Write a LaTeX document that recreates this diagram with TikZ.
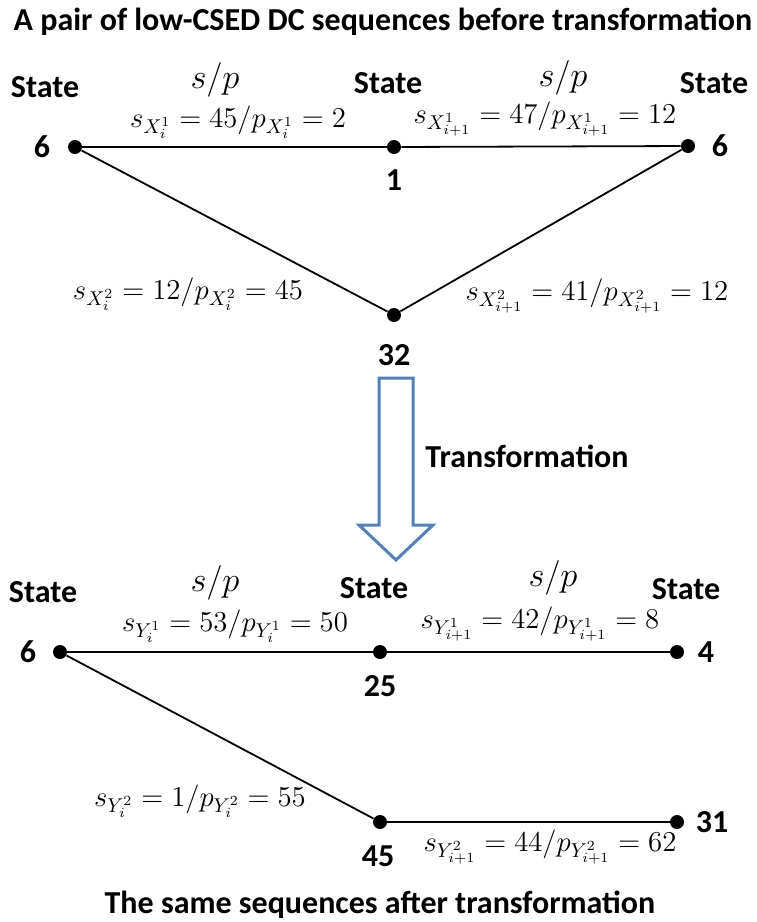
\documentclass[tikz,border=0pt]{standalone}
\usepackage{fontspec}
\usepackage{xcolor}
\newfontfamily\calibri{Carlito}
\usetikzlibrary{positioning}
\definecolor{arrblue}{RGB}{79,129,189}

\begin{document}
\begin{tikzpicture}[x=0.5pt, y=-0.5pt,
  dot/.style={circle, fill=black, inner sep=0pt, minimum size=7pt},
  lbl/.style={font=\calibri\bfseries\fontsize{16}{19}\selectfont, inner sep=1pt},
  edgelbl/.style={font=\fontsize{14}{16}\selectfont, inner sep=1pt},
  sp/.style={font=\fontsize{19}{22}\selectfont, inner sep=1pt},
  edge/.style={line width=0.9pt}]
  \useasboundingbox (0,0) rectangle (756,922);
  \node[lbl] (toptitle) at (383,22) {A pair of low-CSED DC sequences before transformation};
  % before
  \node[dot] (xa) at (75,147) {};
  \node[dot] (xb) at (394,147) {};
  \node[dot] (xc) at (688,146) {};
  \node[dot] (xd) at (394,315) {};
  \node[lbl] (xal) at (42,147) {6};
  \node[lbl] (xbl) at (394,180) {1};
  \node[lbl] (xcl) at (720,146) {6};
  \node[lbl] (xdl) at (394,355) {32};
  \node[lbl] (xs1) at (45,87) {State};
  \node[lbl] (xs2) at (388,83) {State};
  \node[lbl] (xs3) at (714,83) {State};
  \node[sp] (xsp1) at (215,80) {$s/p$};
  \node[sp] (xsp2) at (563,78) {$s/p$};
  \node[edgelbl] (xe1) at (238,122) {$s_{X_i^1}=45/p_{X_i^1}=2$};
  \node[edgelbl] (xe2) at (545,119) {$s_{X_{i+1}^1}=47/p_{X_{i+1}^1}=12$};
  \node[edgelbl] (xe3) at (188,294) {$s_{X_i^2}=12/p_{X_i^2}=45$};
  \node[edgelbl] (xe4) at (597,296) {$s_{X_{i+1}^2}=41/p_{X_{i+1}^2}=12$};
  \foreach \a/\b in {xa/xb, xb/xc, xa/xd, xd/xc} \draw[edge] (\a) -- (\b);
  % transformation arrow
  \draw[arrblue, line width=1.5pt, line join=miter] (379,378) -- (413,378) -- (413,525) -- (433,525)
    -- (396,560) -- (359,525) -- (379,525) -- cycle;
  \node[lbl] (trans) at (527,456) {Transformation};
  % after
  \node[dot] (ya) at (60,652) {};
  \node[dot] (yb) at (380,652) {};
  \node[dot] (yc) at (677,652) {};
  \node[dot] (yd) at (380,822) {};
  \node[dot] (ye) at (677,822) {};
  \node[lbl] (yal) at (28,652) {6};
  \node[lbl] (ybl) at (380,686) {25};
  \node[lbl] (ycl) at (706,652) {4};
  \node[lbl] (ydl) at (378,856) {45};
  \node[lbl] (yel) at (712,822) {31};
  \node[lbl] (ys1) at (43,592) {State};
  \node[lbl] (ys2) at (374,588) {State};
  \node[lbl] (ys3) at (686,589) {State};
  \node[sp] (ysp1) at (215,583) {$s/p$};
  \node[sp] (ysp2) at (553,578) {$s/p$};
  \node[edgelbl] (ye1) at (235,626) {$s_{Y_i^1}=53/p_{Y_i^1}=50$};
  \node[edgelbl] (ye2) at (540,624) {$s_{Y_{i+1}^1}=42/p_{Y_{i+1}^1}=8$};
  \node[edgelbl] (ye3) at (200,801) {$s_{Y_i^2}=1/p_{Y_i^2}=55$};
  \node[edgelbl] (ye4) at (550,847) {$s_{Y_{i+1}^2}=44/p_{Y_{i+1}^2}=62$};
  \foreach \a/\b in {ya/yb, yb/yc, ya/yd, yd/ye} \draw[edge] (\a) -- (\b);
  \node[lbl] (bottitle) at (380,905) {The same sequences after transformation};
\end{tikzpicture}
\end{document}
